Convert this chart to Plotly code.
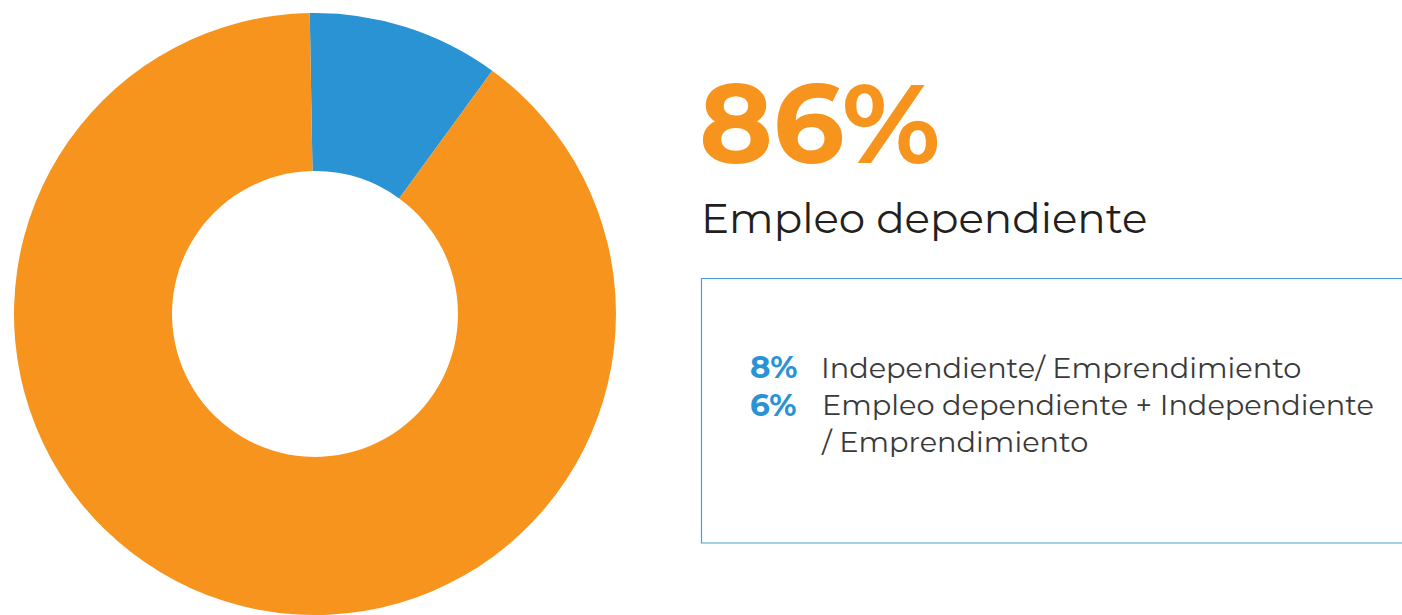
import plotly.graph_objects as go

W, H = 1402, 615

# donut slices (share of the ring as drawn)
slice_labels = ["Independiente / Mixto", "Empleo dependiente"]
slice_values = [10.3, 89.7]
slice_colors = ["#2A93D3", "#F7941E"]

# headline and breakdown texts
main_pct = "86%"
main_label = "Empleo dependiente"
detail_pcts = ["8%", "6%"]
detail_labels = [
    "Independiente/ Emprendimiento",
    "Empleo dependiente + Independiente<br>/ Emprendimiento",
]

FONT = "Montserrat, Inter, Open Sans, sans-serif"


def px_x(x):
    return x / W


def px_y(y):
    return 1 - y / H


fig = go.Figure(
    go.Pie(
        labels=slice_labels,
        values=slice_values,
        marker=dict(colors=slice_colors, line=dict(width=0)),
        hole=0.475,
        sort=False,
        direction="clockwise",
        rotation=-1,
        textinfo="none",
        hoverinfo="label+percent",
        domain=dict(x=[px_x(14), px_x(616)], y=[0, 602 / H]),
    )
)

ann = []
ann.append(dict(x=px_x(697), y=px_y(123), text="<b>%s</b>" % main_pct,
                font=dict(family=FONT, size=112, color="#F7941E")))
ann.append(dict(x=px_x(699), y=px_y(218), text=main_label,
                font=dict(family=FONT, size=42, color="#231F20")))

rows_y = [367, 405]
for pct, lab, yy in zip(detail_pcts, detail_labels, rows_y):
    ann.append(dict(x=px_x(748), y=px_y(yy), text="<b>%s</b>" % pct,
                    font=dict(family=FONT, size=31, color="#2A93D3")))
    ann.append(dict(x=px_x(819), y=px_y(yy), text=lab,
                    font=dict(family=FONT, size=28.8, color="#3A3A3A")))

for a in ann:
    a.update(xref="paper", yref="paper", xanchor="left", yanchor="middle",
             showarrow=False, align="left")
# the two-line label is anchored at its top instead
ann[-1]["yanchor"] = "top"
ann[-1]["y"] = px_y(405 - 20)

fig.update_layout(
    width=W,
    height=H,
    showlegend=False,
    margin=dict(l=0, r=0, t=0, b=0),
    paper_bgcolor="white",
    plot_bgcolor="white",
    annotations=ann,
    shapes=[
        dict(type="rect", xref="paper", yref="paper",
             x0=px_x(701.5), x1=1.05, y0=px_y(543), y1=px_y(278.5),
             line=dict(color="#4A9FD8", width=1.2), fillcolor="rgba(0,0,0,0)")
    ],
)

fig.write_html("out.html", config={"displayModeBar": False},
               post_script="document.body.style.margin='0';")
